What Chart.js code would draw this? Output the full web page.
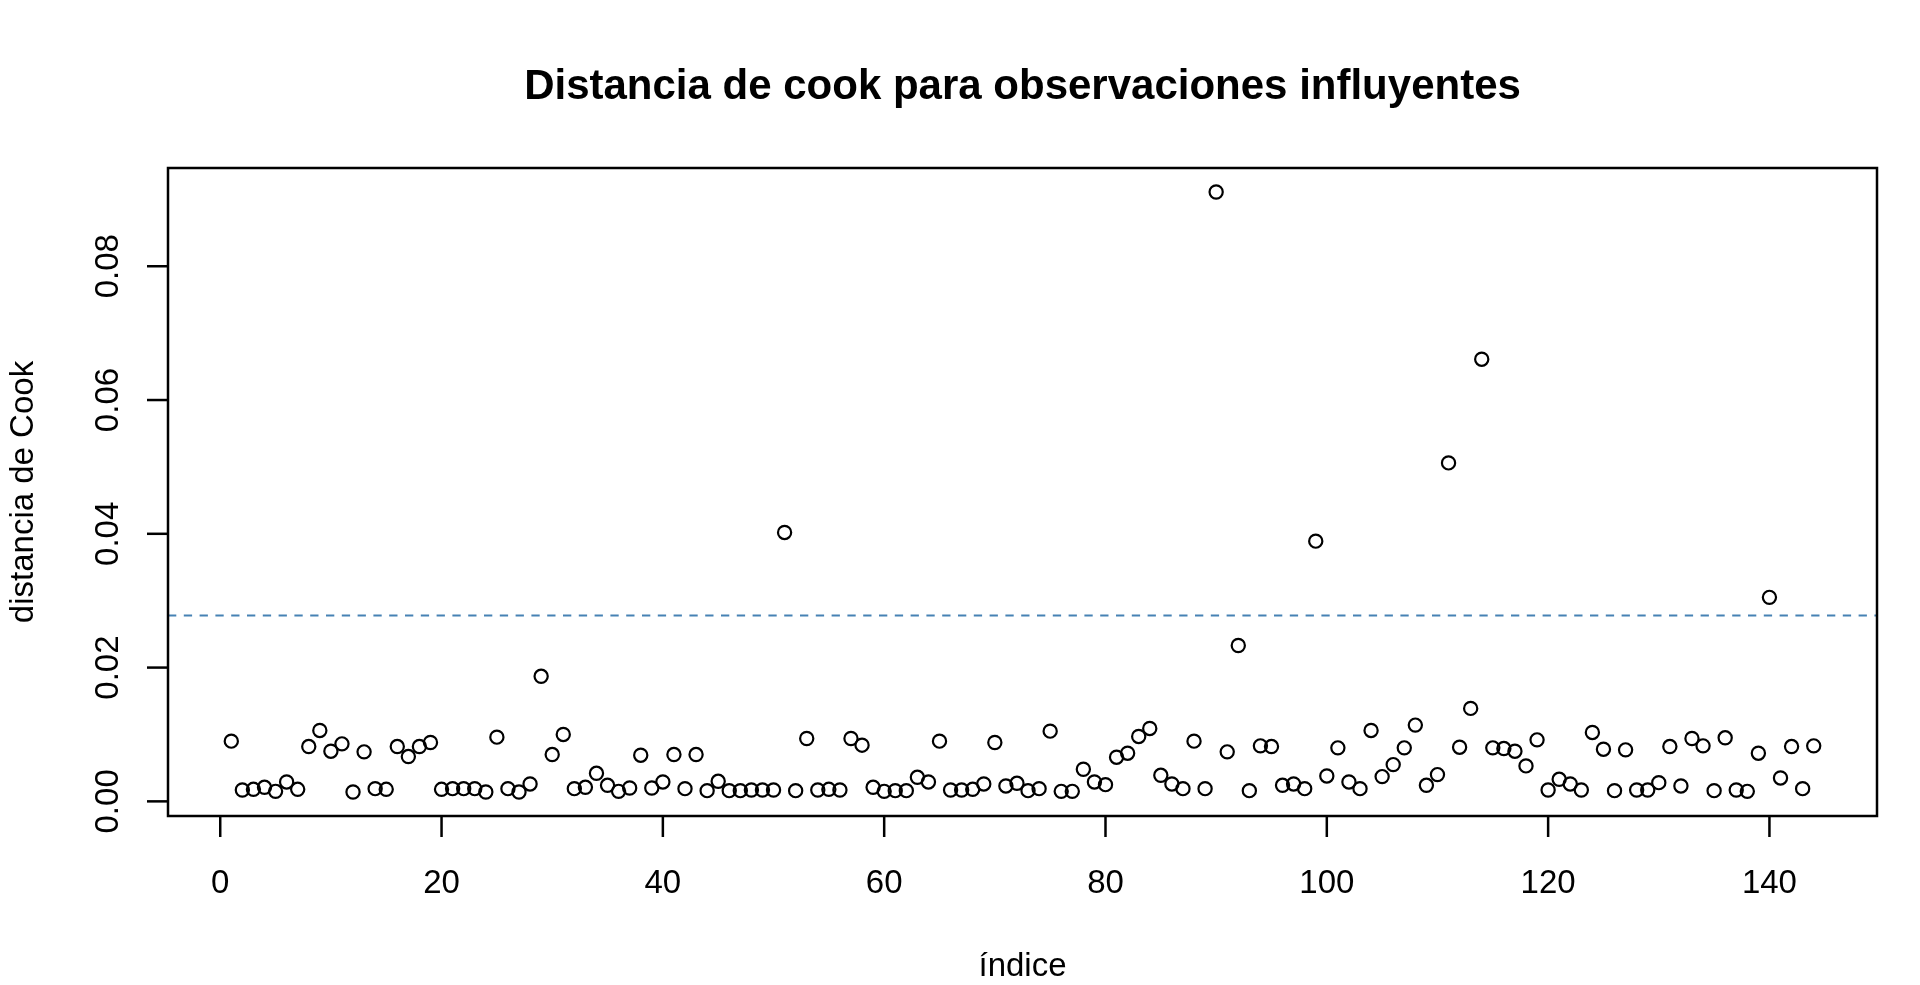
<!DOCTYPE html>
<html lang="es">
<head>
    <meta charset="UTF-8">
    <title>Distancia de cook</title>
    <script src="https://cdn.jsdelivr.net/npm/chart.js"></script>
    <style>
        body {
            margin: 0;
            padding: 0;
            background-color: #ffffff;
        }
        .chart-box {
            width: 1920px;
            height: 985px;
        }
    </style>
</head>
<body>
    <div class="chart-box">
        <canvas id="cookChart"></canvas>
    </div>

    <script>
        // Cook's distance for each observation (index 1..144)
        const cookValues = [
            0.0090, 0.0017, 0.0018, 0.0021, 0.0015, 0.0029, 0.0018, 0.0082, 0.0106, 0.0075,
            0.0086, 0.0014, 0.0074, 0.0019, 0.0018, 0.0082, 0.0067, 0.0082, 0.0088, 0.0018,
            0.0019, 0.0019, 0.0019, 0.0014, 0.0096, 0.0019, 0.0014, 0.0026, 0.0187, 0.0070,
            0.0100, 0.0019, 0.0021, 0.0042, 0.0024, 0.0015, 0.0020, 0.0069, 0.0020, 0.0029,
            0.0070, 0.0019, 0.0070, 0.0016, 0.0030, 0.0016, 0.0016, 0.0017, 0.0017, 0.0017,
            0.0402, 0.0016, 0.0094, 0.0017, 0.0018, 0.0017, 0.0094, 0.0084, 0.0021, 0.0015,
            0.0016, 0.0016, 0.0036, 0.0029, 0.0090, 0.0017, 0.0017, 0.0018, 0.0026, 0.0088,
            0.0023, 0.0027, 0.0016, 0.0019, 0.0105, 0.0015, 0.0015, 0.0048, 0.0029, 0.0025,
            0.0066, 0.0072, 0.0097, 0.0109, 0.0039, 0.0026, 0.0019, 0.0090, 0.0019, 0.0911,
            0.0074, 0.0233, 0.0016, 0.0083, 0.0082, 0.0024, 0.0026, 0.0019, 0.0389, 0.0038,
            0.0080, 0.0029, 0.0019, 0.0106, 0.0037, 0.0055, 0.0080, 0.0114, 0.0024, 0.0040,
            0.0506, 0.0081, 0.0139, 0.0661, 0.0080, 0.0079, 0.0075, 0.0053, 0.0092, 0.0017,
            0.0033, 0.0026, 0.0017, 0.0103, 0.0078, 0.0016, 0.0077, 0.0017, 0.0017, 0.0028,
            0.0082, 0.0023, 0.0094, 0.0083, 0.0016, 0.0095, 0.0017, 0.0015, 0.0072, 0.0305,
            0.0035, 0.0082, 0.0019, 0.0083
        ];
        const indices = cookValues.map((v, i) => i + 1);
        const cutoff = 4 / cookValues.length;   // 4/n reference line

        const xTicks = [0, 20, 40, 60, 80, 100, 120, 140];
        const yTicks = [0, 0.02, 0.04, 0.06, 0.08];

        const chartTitle = 'Distancia de cook para observaciones influyentes';
        const xTitle = 'índice';
        const yTitle = 'distancia de Cook';

        // R-like axis ranges (data range extended by 4%)
        const xLo = Math.min(...indices), xHi = Math.max(...indices);
        const yLo = Math.min(...cookValues), yHi = Math.max(...cookValues);
        const xMin = xLo - 0.04 * (xHi - xLo), xMax = xHi + 0.04 * (xHi - xLo);
        const yMin = yLo - 0.04 * (yHi - yLo), yMax = yHi + 0.04 * (yHi - yLo);

        const fontFamily = '"Liberation Sans", Arial, sans-serif';

        // box, axes, tick labels and titles in base R style
        const rAxes = {
            id: 'rAxes',
            afterDraw(chart) {
                const { ctx, chartArea: a, scales: { x, y } } = chart;
                ctx.save();
                ctx.strokeStyle = '#000';
                ctx.fillStyle = '#000';
                ctx.lineWidth = 2.5;
                ctx.strokeRect(a.left, a.top, a.right - a.left, a.bottom - a.top);

                ctx.font = '33px ' + fontFamily;
                ctx.textAlign = 'center';
                ctx.textBaseline = 'alphabetic';

                xTicks.forEach(v => {
                    const px = x.getPixelForValue(v);
                    ctx.beginPath();
                    ctx.moveTo(px, a.bottom);
                    ctx.lineTo(px, a.bottom + 21);
                    ctx.stroke();
                    ctx.fillText(String(v), px, a.bottom + 77);
                });

                yTicks.forEach(v => {
                    const py = y.getPixelForValue(v);
                    ctx.beginPath();
                    ctx.moveTo(a.left, py);
                    ctx.lineTo(a.left - 21, py);
                    ctx.stroke();
                    ctx.save();
                    ctx.translate(a.left - 50, py);
                    ctx.rotate(-Math.PI / 2);
                    ctx.fillText(v.toFixed(2), 0, 0);
                    ctx.restore();
                });

                // axis titles
                ctx.fillText(xTitle, (a.left + a.right) / 2, 976);
                ctx.save();
                ctx.translate(33, (a.top + a.bottom) / 2);
                ctx.rotate(-Math.PI / 2);
                ctx.fillText(yTitle, 0, 0);
                ctx.restore();

                // main title
                ctx.font = 'bold 42px ' + fontFamily;
                ctx.fillText(chartTitle, (a.left + a.right) / 2, 99);
                ctx.restore();
            }
        };

        const ctx = document.getElementById('cookChart').getContext('2d');
        const cookChart = new Chart(ctx, {
            type: 'scatter',
            data: {
                datasets: [
                    {
                        label: 'Cook',
                        data: indices.map((i, k) => ({ x: i, y: cookValues[k] })),
                        pointStyle: 'circle',
                        pointRadius: 6.6,
                        pointBorderWidth: 2.2,
                        pointBackgroundColor: 'rgba(0,0,0,0)',
                        pointBorderColor: '#000000'
                    },
                    {
                        type: 'line',
                        label: '4/n',
                        data: [{ x: xMin, y: cutoff }, { x: xMax, y: cutoff }],
                        borderColor: '#4682b4',
                        borderWidth: 2,
                        borderDash: [8.3, 7.5],
                        pointRadius: 0,
                        fill: false
                    }
                ]
            },
            options: {
                responsive: true,
                maintainAspectRatio: false,
                animation: false,
                devicePixelRatio: 1,
                layout: {
                    padding: { left: 168, top: 168, right: 43, bottom: 169 }
                },
                plugins: {
                    legend: { display: false },
                    title: { display: false },
                    tooltip: { enabled: false }
                },
                scales: {
                    x: { type: 'linear', min: xMin, max: xMax, display: false },
                    y: { type: 'linear', min: yMin, max: yMax, display: false }
                }
            },
            plugins: [rAxes]
        });
    </script>
</body>
</html>
